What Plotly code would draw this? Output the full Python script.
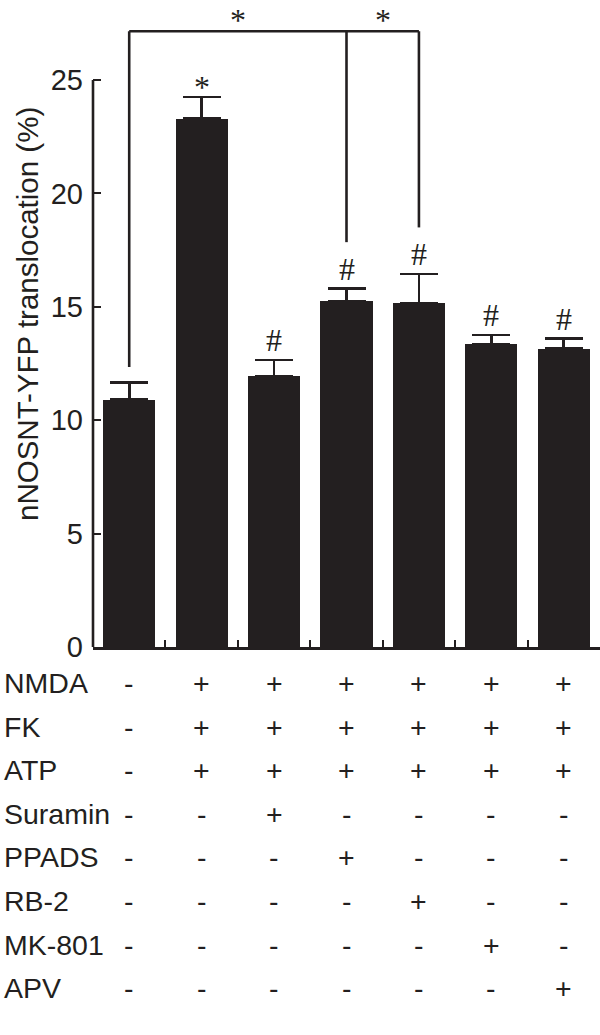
import plotly.graph_objects as go

# ---- data ----
groups = ["Control", "NMDA+FK+ATP", "+Suramin", "+PPADS", "+RB-2", "+MK-801", "+APV"]
values = [10.9, 23.3, 11.95, 15.25, 15.15, 13.35, 13.15]
errors = [0.75, 0.95, 0.70, 0.55, 1.30, 0.40, 0.45]
marks = ["", "*", "#", "#", "#", "#", "#"]

row_labels = ["NMDA", "FK", "ATP", "Suramin", "PPADS", "RB-2", "MK-801", "APV"]
row_signs = [
    ["-", "+", "+", "+", "+", "+", "+"],
    ["-", "+", "+", "+", "+", "+", "+"],
    ["-", "+", "+", "+", "+", "+", "+"],
    ["-", "-", "+", "-", "-", "-", "-"],
    ["-", "-", "-", "+", "-", "-", "-"],
    ["-", "-", "-", "-", "+", "-", "-"],
    ["-", "-", "-", "-", "-", "+", "-"],
    ["-", "-", "-", "-", "-", "-", "+"],
]

y_ticks = [0, 5, 10, 15, 20, 25]

# significance bracket (data units)
bracket_x = [0, 3, 4]
bracket_bottom = [12.35, 17.85, 18.5]
bracket_top = 27.15
bracket_star_x = [1.5, 3.5]

# ---- style ----
INK = "#231f20"
W, H = 600, 1035
ML, MR, MT, MB = 93, 0, 5, 388
plot_h = H - MT - MB
y0_px, y25_px = 647, 80
y_max = 25 * plot_h / (y0_px - y25_px)
SANS = "Liberation Sans, Arial, sans-serif"
SERIF = "Liberation Serif, Times New Roman, serif"
FS = 28.5
MARK_FS = 32

x = list(range(len(groups)))

fig = go.Figure()
fig.add_trace(go.Bar(
    x=x, y=values, width=0.72,
    marker=dict(color=INK, line=dict(width=0)),
    error_y=dict(type="data", array=errors, arrayminus=[0] * len(errors),
                 symmetric=False, color=INK, thickness=2.6, width=19),
    hoverinfo="skip",
))

# marks above bars
for xi, v, e, m in zip(x, values, errors, marks):
    if not m:
        continue
    fig.add_annotation(x=xi, y=v + e, xref="x", yref="y", text=m, showarrow=False,
                       font=dict(family=SERIF, size=MARK_FS, color=INK),
                       yanchor="middle", yshift=10 if m == "*" else 20)

# bracket
fig.add_shape(type="line", x0=bracket_x[0], x1=bracket_x[-1], y0=bracket_top, y1=bracket_top,
              xref="x", yref="y", line=dict(color=INK, width=2.6))
for bx, bb in zip(bracket_x, bracket_bottom):
    fig.add_shape(type="line", x0=bx, x1=bx, y0=bb, y1=bracket_top,
                  xref="x", yref="y", line=dict(color=INK, width=2.6))
for sx in bracket_star_x:
    fig.add_annotation(x=sx, y=bracket_top, xref="x", yref="y", text="*", showarrow=False,
                       font=dict(family=SERIF, size=MARK_FS, color=INK),
                       yanchor="middle", yshift=11)

# y axis line (only up to 25)
fig.add_shape(type="line", x0=0, x1=0, y0=0, y1=max(y_ticks), xref="paper", yref="y",
              line=dict(color=INK, width=2.6))

# y axis title
fig.add_annotation(x=0, y=0.5, xref="paper", yref="paper", xshift=-66, yshift=12,
                   text="nNOSNT-YFP translocation (%)", textangle=-90, showarrow=False,
                   font=dict(family=SANS, size=29.5, color=INK), xanchor="center", yanchor="middle")

# treatment table
row_offsets = [36 + i * 43.6 for i in range(len(row_labels))]
for lab, signs, off in zip(row_labels, row_signs, row_offsets):
    fig.add_annotation(x=0, y=0, xref="paper", yref="paper", xshift=-ML + 2, yshift=-off,
                       text=lab, showarrow=False, xanchor="left", yanchor="middle",
                       font=dict(family=SANS, size=FS, color=INK))
    for xi, s in zip(x, signs):
        fig.add_annotation(x=xi, y=0, xref="x", yref="paper", yshift=-off,
                           text=s, showarrow=False, xanchor="center", yanchor="middle",
                           font=dict(family=SANS, size=FS, color=INK))

fig.update_layout(
    width=W, height=H,
    margin=dict(l=ML, r=MR, t=MT, b=MB),
    plot_bgcolor="white", paper_bgcolor="white",
    showlegend=False, bargap=0,
    font=dict(family=SANS, color=INK),
)
fig.update_xaxes(range=[-0.5, len(groups) - 0.5], showline=True, linecolor=INK, linewidth=2.6,
                 tickvals=[i + 0.5 for i in x], ticks="inside", ticklen=7, tickwidth=2.4,
                 tickcolor=INK, showticklabels=False, showgrid=False, zeroline=False)
fig.update_yaxes(range=[0, y_max], showline=False, tickvals=y_ticks, ticks="inside",
                 ticklen=8, tickwidth=2.4, tickcolor=INK, showgrid=False, zeroline=False,
                 tickfont=dict(family=SANS, size=29, color=INK), ticklabelstandoff=9)

fig.write_html("out.html", config={"displayModeBar": False},
               post_script="document.body.style.margin='0px';")
